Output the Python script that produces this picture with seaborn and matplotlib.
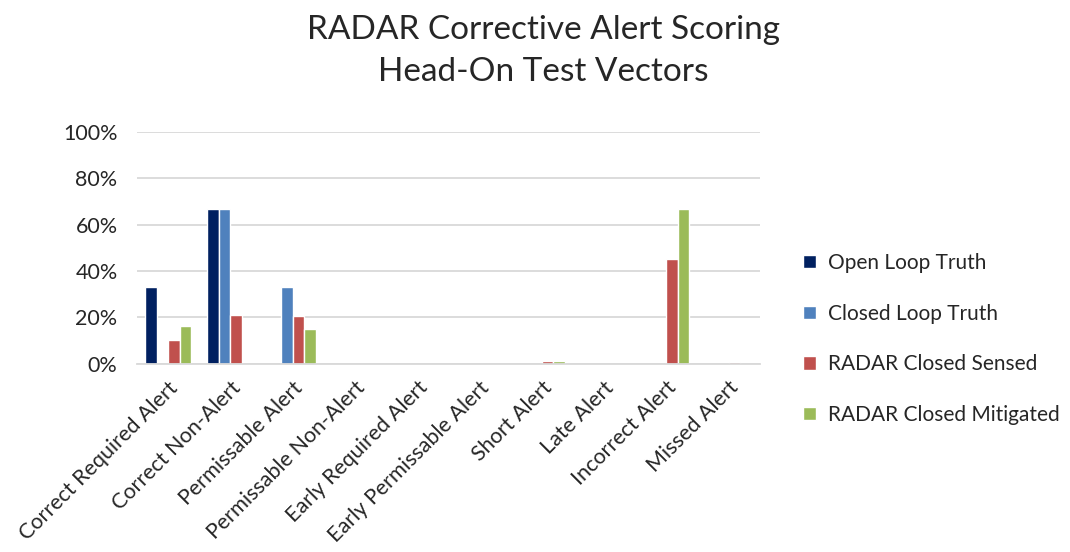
import pandas as pd
import seaborn as sns
import matplotlib.pyplot as plt
from matplotlib.ticker import PercentFormatter

categories = ["Correct Required Alert", "Correct Non-Alert", "Permissable Alert",
              "Permissable Non-Alert", "Early Required Alert", "Early Permissable Alert",
              "Short Alert", "Late Alert", "Incorrect Alert", "Missed Alert"]
series = ["Open Loop Truth", "Closed Loop Truth", "RADAR Closed Sensed", "RADAR Closed Mitigated"]

open_loop_truth = [33.3, 66.7, 0, 0, 0, 0, 0, 0, 0, 0]
closed_loop_truth = [0, 66.7, 33.3, 0, 0, 0, 0, 0, 0, 0]
radar_closed_sensed = [10.3, 21.1, 20.6, 0, 0, 0, 1.0, 0, 45.1, 0.6]
radar_closed_mitigated = [16.4, 0, 15.1, 0, 0, 0, 1.0, 0, 66.7, 0]

colors = ["#002060", "#4F81BD", "#C0504D", "#9BBB59"]

df = pd.DataFrame({
    "category": categories * 4,
    "series": [s for s in series for _ in categories],
    "value": open_loop_truth + closed_loop_truth + radar_closed_sensed + radar_closed_mitigated,
})

sns.set_style("white")
plt.rcParams['font.family'] = ['Lato', 'DejaVu Sans']

fig = plt.figure(figsize=(10.7, 5.52), dpi=100)
ax = fig.add_axes([0.128, 0.341, 0.582, 0.42])
sns.barplot(data=df, x="category", y="value", hue="series", palette=colors,
            width=0.74, saturation=1, ax=ax, legend=True)

ax.set_ylim(0, 100)
ax.set_yticks(range(0, 101, 20))
ax.yaxis.set_major_formatter(PercentFormatter(decimals=0))
ax.grid(axis="y", color="#D9D9D9", linewidth=1.3)
ax.set_axisbelow(True)
for s in ["top", "right", "left"]:
    ax.spines[s].set_visible(False)
ax.spines["bottom"].set_color("#D9D9D9")
ax.spines["bottom"].set_linewidth(1.3)
ax.tick_params(axis="both", length=0, labelsize=15.5)
ax.tick_params(axis="y", pad=14)
ax.tick_params(axis="x", pad=10)
ax.set_xlabel("")
ax.set_ylabel("")
plt.setp(ax.get_xticklabels(), rotation=45, ha="right", rotation_mode="anchor")
ax.set_xlim(-0.5, len(categories) - 0.5)

ax.legend(loc="center left", bbox_to_anchor=(0.733, 0.386), bbox_transform=fig.transFigure,
          frameon=False, fontsize=15, labelspacing=1.48, handlelength=0.6,
          handleheight=0.6, handletextpad=0.6)

fig.suptitle("RADAR Corrective Alert Scoring\nHead-On Test Vectors", fontsize=24,
             x=0.508, y=0.972, linespacing=1.5)

fig.savefig("out.png", dpi=100)
plt.close("all")
